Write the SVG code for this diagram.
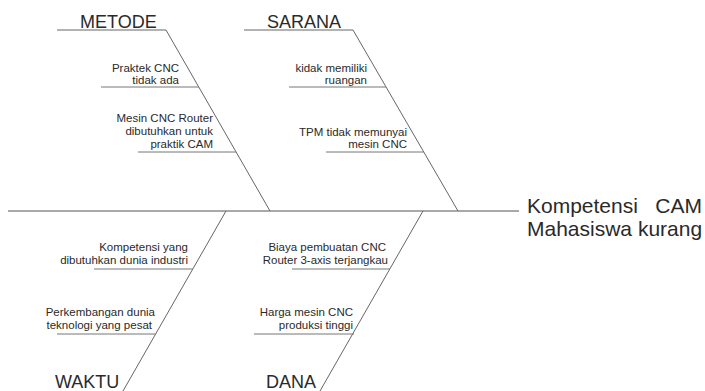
<svg xmlns="http://www.w3.org/2000/svg" width="705" height="391" viewBox="0 0 705 391">
<style>
text{font-family:"Liberation Sans",Arial,sans-serif;fill:#2a2a2a}
.cat{font-size:18px}
.sub{font-size:11.5px;text-anchor:end}
.head{font-size:21px}
.main{stroke:#555;stroke-width:1.1;fill:none}
.bone{stroke:#666;stroke-width:1;fill:none}
.minor{stroke:#777;stroke-width:1;fill:none}
</style>
<rect width="705" height="391" fill="#fff"/>
<g id="connectors">
<line class="main" x1="8" y1="211" x2="519" y2="211"/>
<polyline class="bone" points="57,30 166,30 270,211"/>
<polyline class="bone" points="244,30 353,30 458,211"/>
<line class="bone" x1="226" y1="211" x2="123" y2="391"/>
<line class="bone" x1="423" y1="211" x2="320" y2="391"/>
<line class="minor" x1="101" y1="87" x2="199" y2="87"/>
<line class="minor" x1="138" y1="152" x2="236" y2="152"/>
<line class="minor" x1="289" y1="87" x2="386" y2="87"/>
<line class="minor" x1="326" y1="152" x2="424" y2="152"/>
<line class="minor" x1="94" y1="269" x2="193" y2="269"/>
<line class="minor" x1="57" y1="334" x2="156" y2="334"/>
<line class="minor" x1="292" y1="269" x2="390" y2="269"/>
<line class="minor" x1="254" y1="334" x2="354" y2="334"/>
</g>
<g id="head">
<text class="head" x="527" y="213">Kompetensi</text>
<text class="head" x="702" y="213" text-anchor="end">CAM</text>
<text class="head" x="527" y="236">Mahasiswa kurang</text>
</g>
<g id="metode">
<text class="cat" x="80" y="28">METODE</text>
<text class="sub" x="179" y="72">Praktek CNC</text>
<text class="sub" x="179" y="84">tidak ada</text>
<text class="sub" x="213" y="122">Mesin CNC Router</text>
<text class="sub" x="213" y="135">dibutuhkan untuk</text>
<text class="sub" x="213" y="148">praktik CAM</text>
</g>
<g id="sarana">
<text class="cat" x="267" y="28">SARANA</text>
<text class="sub" x="367" y="72">kidak memiliki</text>
<text class="sub" x="367" y="84">ruangan</text>
<text class="sub" x="407" y="136">TPM tidak memunyai</text>
<text class="sub" x="407" y="148">mesin CNC</text>
</g>
<g id="waktu">
<text class="cat" x="55" y="388">WAKTU</text>
<text class="sub" x="188" y="251">Kompetensi yang</text>
<text class="sub" x="188" y="264">dibutuhkan dunia industri</text>
<text class="sub" x="155" y="316">Perkembangan dunia</text>
<text class="sub" x="152" y="329">teknologi yang pesat</text>
</g>
<g id="dana">
<text class="cat" x="266" y="388">DANA</text>
<text class="sub" x="386" y="251">Biaya pembuatan CNC</text>
<text class="sub" x="388" y="264">Router 3-axis terjangkau</text>
<text class="sub" x="353" y="316">Harga mesin CNC</text>
<text class="sub" x="353" y="329">produksi tinggi</text>
</g>
</svg>
